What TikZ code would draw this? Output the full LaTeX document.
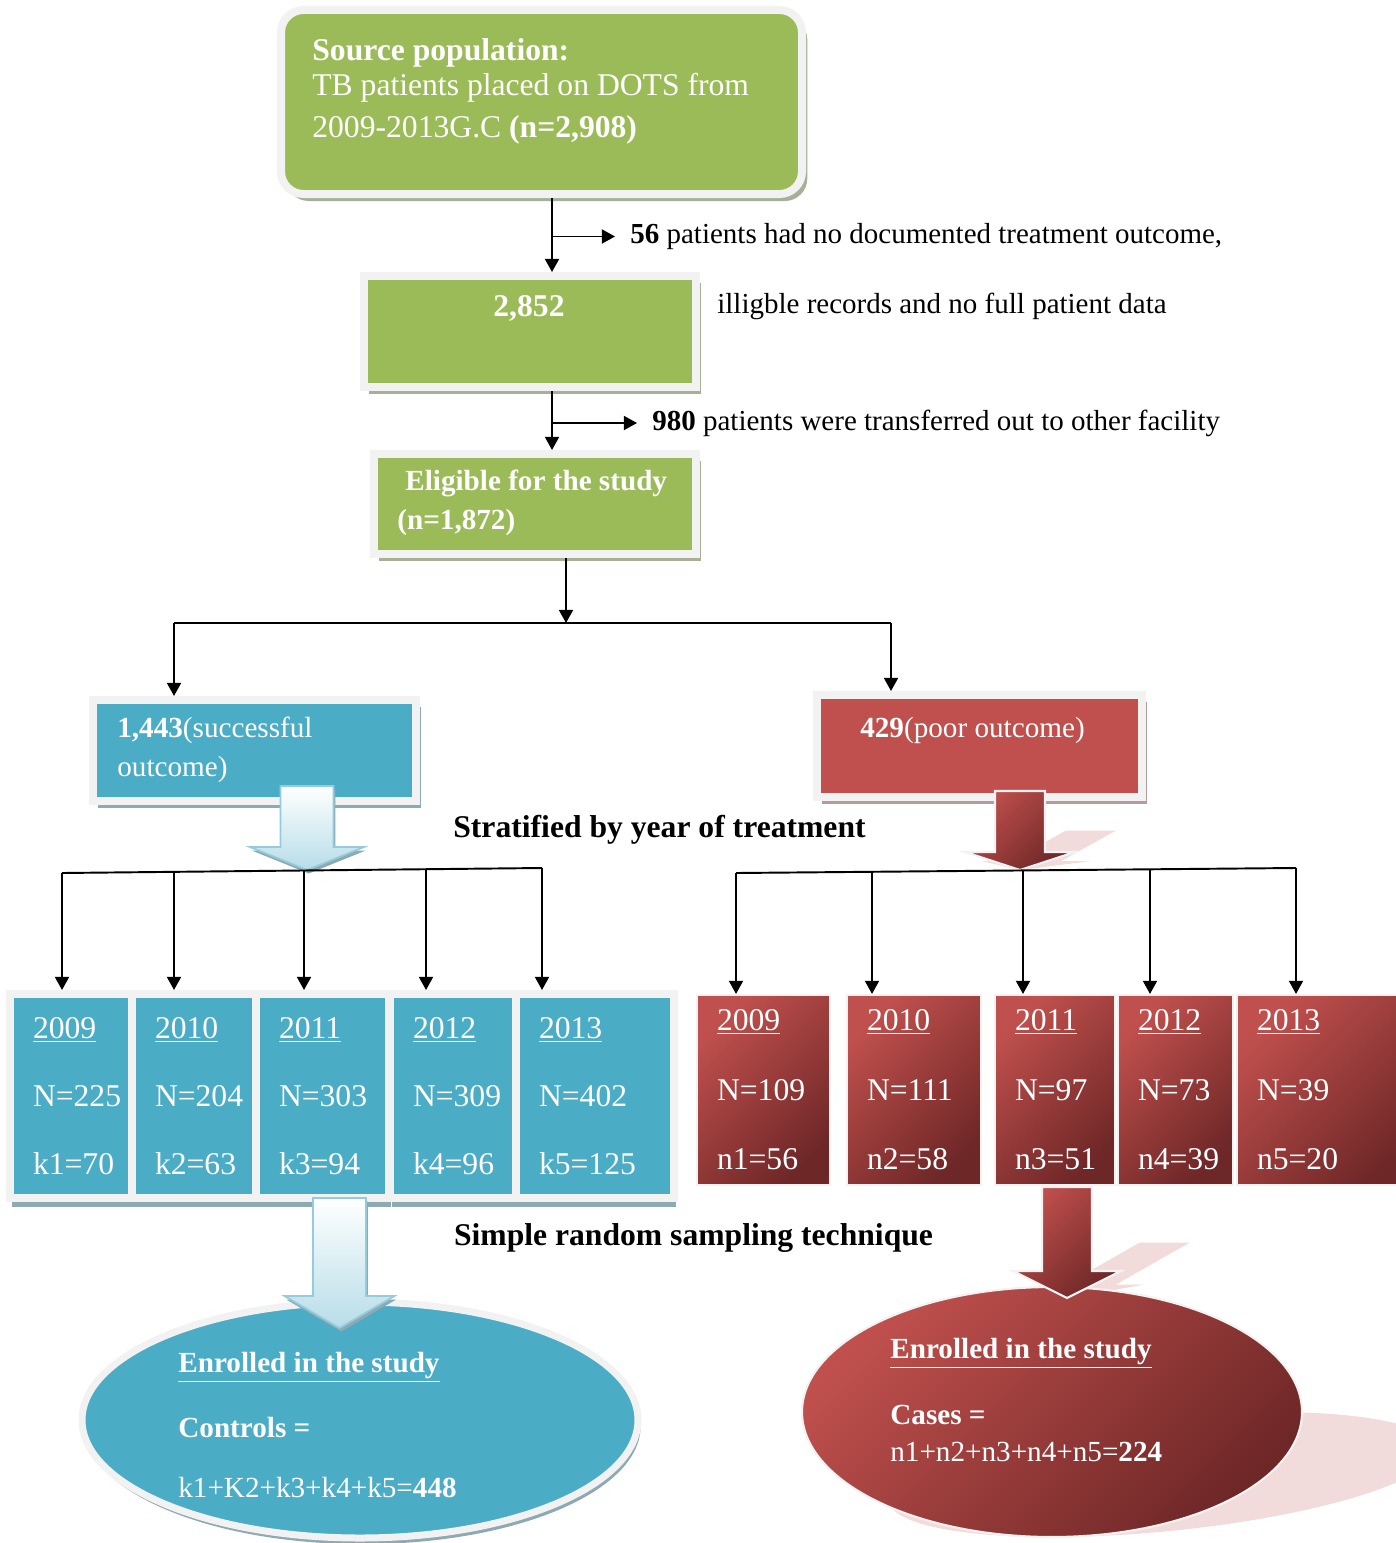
\documentclass[tikz,border=0pt]{standalone}
\usepackage{fontspec}
\setmainfont{Liberation Serif}
\usetikzlibrary{
    arrows.meta,
    positioning,
    calc,
    shadows,
    shapes.geometric
}
\definecolor{boxgreen}{HTML}{9BBB59}
\definecolor{boxblue}{HTML}{4BACC6}
\definecolor{boxred}{HTML}{C0504D}
\definecolor{darkred}{HTML}{6E2727}
\definecolor{framegray}{HTML}{F2F2F2}
\definecolor{greenshade}{HTML}{A6B096}
\definecolor{blueshade}{HTML}{8DA9B3}
\definecolor{redshade}{HTML}{B89A9A}
\definecolor{paleblue}{HTML}{B7DDE8}
\definecolor{arrowedge}{HTML}{93CDDD}
\definecolor{pinkshade}{HTML}{F2DCDB}
\newcommand{\bigfont}{\fontsize{18}{21.6}\selectfont}
\newcommand{\midfont}{\fontsize{16.6}{22}\selectfont}
\newcommand{\sidefont}{\fontsize{16.5}{20}\selectfont}
% outline of a fat down arrow: x, top, head base, tip, shaft half, head half
\newcommand{\downarrowpath}[6]{({#1-#5},#2) -- ({#1+#5},#2) -- ({#1+#5},#3) -- ({#1+#6},#3) -- (#1,#4) -- ({#1-#6},#3) -- ({#1-#5},#3) -- cycle}
\tikzset{
    % Framed box with a flat fill
    framebox/.style={
        rectangle,
        draw=framegray,
        line width=0.16cm,
        fill=#1,
        text=white,
        font=\bigfont,
        inner sep=0pt
    },
    greenbox/.style={
        framebox=boxgreen,
        drop shadow={shadow xshift=3pt, shadow yshift=-4pt, fill=greenshade, opacity=1}
    },
    bluebox/.style={
        framebox=boxblue,
        drop shadow={shadow xshift=3pt, shadow yshift=-4pt, fill=blueshade, opacity=1}
    },
    redbox/.style={
        framebox=boxred,
        drop shadow={shadow xshift=3pt, shadow yshift=-4pt, fill=redshade, opacity=1}
    },
    % Year boxes
    blueyear/.style={
        framebox=boxblue,
        align=left,
        inner xsep=0.46cm,
        minimum height=4.08cm,
        drop shadow={shadow xshift=1pt, shadow yshift=-5pt, fill=blueshade, opacity=1}
    },
    redyear/.style={
        rectangle,
        draw=framegray,
        line width=1.2pt,
        top color=boxred,
        bottom color=darkred,
        shading angle=45,
        text=white,
        font=\bigfont,
        align=left,
        inner xsep=0.4cm,
        inner ysep=0pt,
        minimum height=3.8cm
    },
    % Final ovals
    blueoval/.style={
        ellipse,
        draw=framegray,
        line width=0.14cm,
        fill=boxblue,
        inner sep=0pt,
        drop shadow={shadow xshift=1.5pt, shadow yshift=-3.5pt, fill=blueshade, opacity=1}
    },
    redoval/.style={
        ellipse,
        draw=framegray,
        line width=1.2pt,
        top color=boxred,
        bottom color=darkred,
        shading angle=45,
        inner sep=0pt
    },
    % Fat arrows
    bluearrow/.style={
        draw=arrowedge,
        line width=1pt,
        top color=white,
        bottom color=paleblue,
        drop shadow={shadow xshift=1pt, shadow yshift=-2pt, fill=blueshade, opacity=1}
    },
    redarrow/.style={
        draw=framegray,
        line width=1.2pt,
        top color=boxred,
        bottom color=darkred,
        shading angle=45
    },
    % Texts
    boxtext/.style={
        text=white,
        inner sep=0pt,
        font=\bigfont
    },
    sidetext/.style={
        font=\sidefont,
        inner xsep=0.3cm,
        inner ysep=0pt
    },
    step text/.style={
        font=\bigfont\bfseries,
        inner sep=0pt
    },
    % Lines
    bar/.style={line width=1.1pt},
    flow/.style={
        -{Triangle[length=7.5pt, width=8pt]},
        line width=1.1pt
    }
}
\begin{document}
\begin{tikzpicture}[font=\bigfont]
    \useasboundingbox (0,0) rectangle (27.9,-30.86);

    % Pink cast shadows of the red shapes
    \fill[pinkshade, cm={1,0,0.88,0.5,(27.05,-15.37)}] (21.04,-28.24) ellipse [x radius=5cm, y radius=2.5cm];
    \fill[pinkshade, cm={1,0,0.9,0.5,(15.66,-8.7)}] \downarrowpath{20.4}{-15.82}{-17.04}{-17.4}{0.5}{1.1};
    \fill[pinkshade, cm={1,0,0.88,0.5,(22.85,-12.98)}] \downarrowpath{21.34}{-23.74}{-25.42}{-25.96}{0.5}{1.08};

    % Source and exclusions
    \node[greenbox, rounded corners=0.45cm, minimum width=10.42cm, minimum height=3.68cm] (source) at (10.83,-2.04) {};
    \node[boxtext, anchor=west, align=left, font=\fontsize{18}{20}\selectfont] (sourcetxt) at (6.24,-1.83)
        {\textbf{Source population:}\\TB patients placed on DOTS from\\[4pt]2009-2013G.C \textbf{(n=2,908)}};

    \node[greenbox, minimum width=6.64cm, minimum height=2.22cm] (total) at (10.6,-6.63) {};
    \node[boxtext] (totaltxt) at (10.58,-6.16) {\textbf{2,852}};

    \node[greenbox, minimum width=6.44cm, minimum height=2cm] (elig) at (10.7,-10.08) {};
    \node[boxtext, anchor=west, align=left, font=\midfont\bfseries] (eligtxt) at (7.94,-10.06)
        {\hspace*{0.16cm}Eligible for the study\\(n=1,872)};

    \coordinate (spine) at (11.04,0);
    \node[sidetext, anchor=west] (lost) at (12.3,-4.73) {\textbf{56} patients had no documented treatment outcome,};
    \node[sidetext, anchor=west] (lostmore) at (14.04,-6.12) {illigble records and no full patient data};
    \node[sidetext, anchor=west] (moved) at (12.74,-8.46) {\textbf{980} patients were transferred out to other facility};

    \draw[flow] (spine |- source.south) -- (spine |- total.north);
    \draw[flow] (spine |- lost.west) -- (lost.west);
    \draw[flow] (spine |- total.south) -- (spine |- elig.north);
    \draw[flow] (spine |- moved.west) -- (moved.west);

    % Outcome split
    \node[bluebox, minimum width=6.46cm, minimum height=2.02cm] (succ) at (5.09,-15.01) {};
    \node[boxtext, anchor=west, align=left, font=\midfont] (succtxt) at (2.34,-15.0)
        {\textbf{1,443}(successful\\outcome)};
    \node[redbox, minimum width=6.5cm, minimum height=2.04cm] (poor) at (19.59,-14.92) {};
    \node[boxtext, font=\midfont] (poortxt) at (19.45,-14.6) {\textbf{429}(poor outcome)};

    \coordinate (split) at (11.32,-12.46);
    \coordinate (lsplit) at (3.48,-12.46);
    \coordinate (rsplit) at (17.82,-12.46);
    \draw[flow] (split |- elig.south) -- (split);
    \draw[bar] (lsplit) -- (rsplit);
    \draw[flow] (lsplit) -- (lsplit |- succ.north);
    \draw[flow] (rsplit) -- (rsplit |- poor.north);

    \node[step text] (strat) at (13.19,-16.6) {Stratified by year of treatment};
    \node[step text] (sampling) at (13.87,-24.76) {Simple random sampling technique};

    % Years, successful outcome
    \node[blueyear, text width=1.52cm] (y2009) at (1.42,-21.92) {\underline{2009}\\[0.6cm]N=225\\[0.6cm]k1=70};
    \node[blueyear, text width=1.56cm] (y2010) at (3.88,-21.92) {\underline{2010}\\[0.6cm]N=204\\[0.6cm]k2=63};
    \node[blueyear, text width=1.74cm] (y2011) at (6.45,-21.92) {\underline{2011}\\[0.6cm]N=303\\[0.6cm]k3=94};
    \node[blueyear, text width=1.60cm] (y2012) at (9.06,-21.92) {\underline{2012}\\[0.6cm]N=309\\[0.6cm]k4=96};
    \node[blueyear, text width=2.24cm] (y2013) at (11.9,-21.92) {\underline{2013}\\[0.6cm]N=402\\[0.6cm]k5=125};

    % Years, poor outcome
    \node[redyear, text width=1.86cm] (r2009) at (15.27,-21.8) {\underline{2009}\\[0.63cm]N=109\\[0.63cm]n1=56};
    \node[redyear, text width=1.88cm] (r2010) at (18.28,-21.8) {\underline{2010}\\[0.63cm]N=111\\[0.63cm]n2=58};
    \node[redyear, text width=1.60cm] (r2011) at (21.1,-21.8) {\underline{2011}\\[0.63cm]N=97\\[0.63cm]n3=51};
    \node[redyear, text width=1.50cm] (r2012) at (23.51,-21.8) {\underline{2012}\\[0.63cm]N=73\\[0.63cm]n4=39};
    \node[redyear, text width=2.86cm] (r2013) at (26.57,-21.8) {\underline{2013}\\[0.63cm]N=39\\[0.63cm]n5=20};

    % Enrolled
    \node[blueoval, minimum width=11.12cm, minimum height=4.72cm] (controls) at (7.2,-28.4) {};
    \node[boxtext, anchor=west, align=left, font=\fontsize{16.6}{20}\selectfont] (controlstxt) at (3.56,-28.5)
        {\textbf{\underline{Enrolled in the study}}\\[0.59cm]\textbf{Controls =}\\[0.5cm]k1+K2+k3+k4+k5=\textbf{448}};
    \node[redoval, minimum width=10cm, minimum height=5cm] (cases) at (21.04,-28.24) {};
    \node[boxtext, anchor=west, align=left, font=\fontsize{16.6}{21}\selectfont] (casestxt) at (17.8,-28.0)
        {\textbf{\underline{Enrolled in the study}}\\[0.58cm]\textbf{Cases =}\\n1+n2+n3+n4+n5=\textbf{224}};

    % Fat arrows
    \shade[bluearrow] \downarrowpath{6.14}{-15.72}{-16.94}{-17.4}{0.53}{1.14};
    \shade[redarrow] \downarrowpath{20.4}{-15.82}{-17.04}{-17.4}{0.5}{1.1};
    \shade[bluearrow] \downarrowpath{6.79}{-23.96}{-25.92}{-26.56}{0.53}{1.1};
    \shade[redarrow] \downarrowpath{21.34}{-23.74}{-25.42}{-25.96}{0.5}{1.08};

    % Stratification buses
    \coordinate (lb1) at (1.24,-17.46);
    \coordinate (lb2) at (3.48,-17.436);
    \coordinate (lb3) at (6.08,-17.41);
    \coordinate (lb4) at (8.52,-17.384);
    \coordinate (lb5) at (10.84,-17.36);
    \draw[bar] (lb1) -- (lb5);
    \draw[flow] (lb1) -- (lb1 |- y2009.north);
    \draw[flow] (lb2) -- (lb2 |- y2010.north);
    \draw[flow] (lb3) -- (lb3 |- y2011.north);
    \draw[flow] (lb4) -- (lb4 |- y2012.north);
    \draw[flow] (lb5) -- (lb5 |- y2013.north);

    \coordinate (rb1) at (14.72,-17.46);
    \coordinate (rb2) at (17.44,-17.436);
    \coordinate (rb3) at (20.46,-17.409);
    \coordinate (rb4) at (23.0,-17.386);
    \coordinate (rb5) at (25.92,-17.36);
    \draw[bar] (rb1) -- (rb5);
    \draw[flow] (rb1) -- (rb1 |- r2009.north);
    \draw[flow] (rb2) -- (rb2 |- r2010.north);
    \draw[flow] (rb3) -- (rb3 |- r2011.north);
    \draw[flow] (rb4) -- (rb4 |- r2012.north);
    \draw[flow] (rb5) -- (rb5 |- r2013.north);

\end{tikzpicture}
\end{document}
